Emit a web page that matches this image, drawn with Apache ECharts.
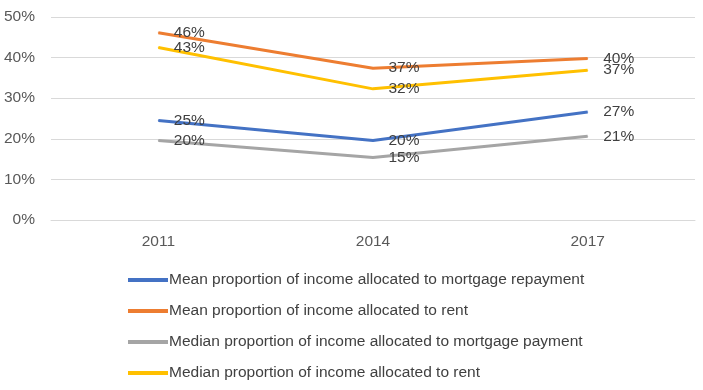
<!DOCTYPE html>
<html>
<head>
<meta charset="utf-8">
<script src="https://cdn.jsdelivr.net/npm/echarts@6/dist/echarts.min.js"></script>
<style>
  html, body { margin: 0; padding: 0; background: #fff; }
  #chart { width: 703px; height: 390px; }
</style>
</head>
<body>
<div id="chart"></div>
<script>
// data (fractions of income)
const years = ['2011', '2014', '2017'];
const meanMortgage = [0.245, 0.196, 0.266];
const meanRent = [0.461, 0.374, 0.398];
const medianMortgage = [0.196, 0.154, 0.206];
const medianRent = [0.425, 0.323, 0.369];

const seriesNames = [
    'Mean proportion of income allocated to mortgage repayment',
    'Mean proportion of income allocated to rent',
    'Median proportion of income allocated to mortgage payment',
    'Median proportion of income allocated to rent'
];
const seriesColors = ['#4472C4', '#ED7D31', '#A5A5A5', '#FFC000'];
const seriesData = [meanMortgage, meanRent, medianMortgage, medianRent];

const FONT = 'Liberation Sans';
const FS = 15.5;

const chart = echarts.init(document.getElementById('chart'));

chart.setOption({
    animation: false,
    textStyle: { fontFamily: FONT },
    grid: { left: 51, right: 8, top: 17, bottom: 170 },
    xAxis: {
        type: 'category',
        data: years,
        axisLine: { lineStyle: { color: '#d9d9d9' } },
        axisTick: { show: false },
        axisLabel: { color: '#595959', fontSize: FS, margin: 14, fontFamily: FONT }
    },
    yAxis: {
        type: 'value',
        min: 0,
        max: 0.5,
        interval: 0.1,
        axisLine: { show: false },
        axisTick: { show: false },
        splitLine: { lineStyle: { color: '#d9d9d9' } },
        axisLabel: {
            color: '#595959', fontSize: FS, margin: 16, fontFamily: FONT,
            formatter: v => Math.round(v * 100) + '%'
        }
    },
    legend: {
        orient: 'vertical',
        left: 123,
        top: 267,
        icon: 'rect',
        itemWidth: 40,
        itemHeight: 4,
        itemGap: 15,
        textStyle: { color: '#404040', fontSize: FS, fontFamily: FONT, padding: [0, 0, 0, -4] },
        data: seriesNames
    },
    series: seriesNames.map((name, i) => ({
        name: name,
        type: 'line',
        data: seriesData[i],
        showSymbol: true,
        symbol: 'circle',
        symbolSize: 1,
        color: seriesColors[i],
        itemStyle: { color: seriesColors[i] },
        lineStyle: { width: 3, color: seriesColors[i] },
        label: {
            show: true,
            position: 'right',
            distance: 15,
            color: '#404040',
            fontSize: FS,
            fontFamily: FONT,
            formatter: p => Math.round(p.value * 100) + '%'
        }
    }))
});
</script>
</body>
</html>
